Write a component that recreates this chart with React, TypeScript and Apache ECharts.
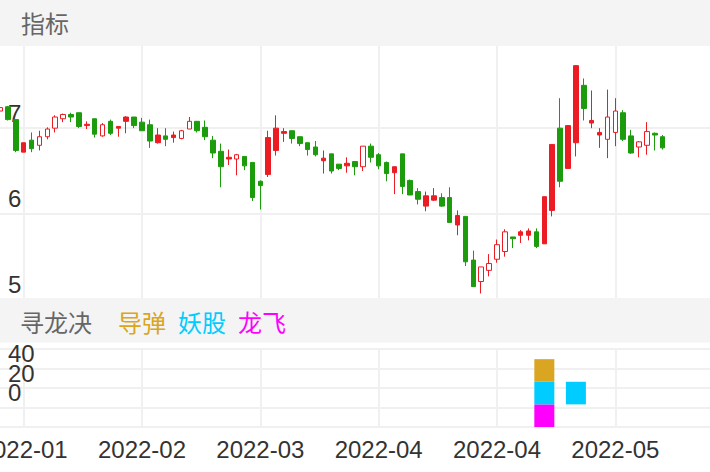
import * as echarts from 'echarts';
import { useEffect, useRef } from 'react';

const RED = '#ec1c24';
const GREEN = '#1c9c0c';
const GRID_LINE = '#f0f0f0';
const BAND = '#f4f4f4';

// category slots on the x axis (the last few are empty)
const categoryCount = 91;
const tickIndex = [3, 18, 33, 48, 63, 78];
const tickLabels = ['2022-01', '2022-02', '2022-03', '2022-04', '2022-04', '2022-05'];

// [open, close, low, high]
const candles = [
  [7.2, 7.24, 7.18, 7.26], [7.25, 7.1, 7.09, 7.26], [7.1, 6.74, 6.72, 7.1], [6.72, 6.83, 6.72, 6.83],
  [6.86, 6.76, 6.72, 6.95], [6.8, 6.9, 6.74, 6.97], [6.9, 6.99, 6.87, 7.01], [7.0, 7.13, 6.95, 7.15],
  [7.11, 7.16, 7.07, 7.17], [7.16, 7.13, 7.07, 7.18], [7.18, 7.02, 7.0, 7.18], [7.03, 7.045, 6.99, 7.08],
  [7.11, 6.93, 6.89, 7.11], [6.91, 7.04, 6.9, 7.06], [7.08, 6.94, 6.92, 7.1], [7.0, 7.02, 6.9, 7.02],
  [7.08, 7.13, 6.94, 7.14], [7.13, 7.03, 7.0, 7.13], [7.07, 6.97, 6.97, 7.12], [7.04, 6.85, 6.77, 7.1],
  [6.83, 6.92, 6.82, 7.0], [6.91, 6.87, 6.79, 7.0], [6.89, 6.92, 6.83, 6.96], [6.88, 6.97, 6.87, 6.98],
  [6.99, 7.08, 6.99, 7.13], [7.08, 6.97, 6.95, 7.08], [7.01, 6.9, 6.86, 7.09], [6.86, 6.71, 6.65, 6.91],
  [6.73, 6.55, 6.31, 6.82], [6.64, 6.66, 6.57, 6.75], [6.64, 6.69, 6.45, 6.7], [6.67, 6.56, 6.51, 6.67],
  [6.6, 6.19, 6.15, 6.6], [6.38, 6.33, 6.05, 6.39], [6.46, 6.89, 6.43, 6.97], [6.74, 7.0, 6.68, 7.15],
  [6.94, 6.96, 6.84, 7.0], [6.97, 6.88, 6.82, 6.97], [6.9, 6.82, 6.79, 6.9], [6.83, 6.75, 6.68, 6.83],
  [6.78, 6.69, 6.67, 6.85], [6.62, 6.65, 6.47, 6.74], [6.7, 6.5, 6.47, 6.7], [6.58, 6.53, 6.51, 6.58],
  [6.56, 6.59, 6.48, 6.66], [6.61, 6.55, 6.45, 6.61], [6.55, 6.79, 6.5, 6.79], [6.79, 6.66, 6.6, 6.82],
  [6.69, 6.56, 6.52, 6.71], [6.6, 6.47, 6.38, 6.61], [6.48, 6.55, 6.23, 6.55], [6.7, 6.32, 6.23, 6.7],
  [6.39, 6.22, 6.22, 6.4], [6.26, 6.17, 6.11, 6.3], [6.09, 6.21, 6.03, 6.26], [6.16, 6.21, 6.15, 6.3],
  [6.19, 6.09, 6.08, 6.24], [6.19, 5.9, 5.9, 6.31], [5.87, 5.98, 5.75, 6.04], [5.97, 5.44, 5.39, 5.97],
  [5.46, 5.15, 5.15, 5.57], [5.21, 5.38, 5.07, 5.38], [5.34, 5.42, 5.27, 5.53], [5.47, 5.64, 5.43, 5.7],
  [5.56, 5.79, 5.5, 5.82], [5.73, 5.71, 5.6, 5.73], [5.75, 5.79, 5.66, 5.81], [5.75, 5.8, 5.69, 5.83],
  [5.79, 5.62, 5.6, 5.83], [5.65, 6.2, 5.65, 6.2], [6.04, 6.81, 5.97, 6.81], [7.0, 6.38, 6.31, 7.35],
  [6.53, 7.03, 6.53, 7.03], [6.83, 7.73, 6.67, 7.73], [7.5, 7.23, 7.09, 7.58], [7.06, 7.09, 7.0, 7.44],
  [6.92, 6.95, 6.77, 7.0], [6.87, 7.13, 6.65, 7.45], [6.95, 7.2, 6.79, 7.35], [7.18, 6.87, 6.85, 7.21],
  [6.91, 6.71, 6.7, 6.98], [6.78, 6.84, 6.66, 6.85], [6.8, 6.96, 6.69, 7.07], [6.94, 6.92, 6.74, 6.95],
  [6.9, 6.77, 6.75, 6.92],
];

// up days drawn as solid red instead of hollow
const solidUp = [3, 11, 15, 16, 20, 22, 29, 34, 35, 36, 41, 44, 50, 54, 55, 58, 66, 67, 69, 70, 72, 73, 75, 76];

// signal days (category index) for the 寻龙决 indicator
const daodanDays = [69];
const yaoguDays = [69, 73];
const longfeiDays = [69];

const signals = [
  { name: '龙飞', row: 0, days: longfeiDays, color: '#ff00ff' },
  { name: '妖股', row: 1, days: yaoguDays, color: '#00ccff' },
  { name: '导弹', row: 2, days: daodanDays, color: '#daa520' },
];

const LATIN = '"Liberation Sans", Arial, sans-serif';
const CJK = '"Noto Sans CJK SC", sans-serif';

export default function App() {
  const chartRef = useRef<HTMLDivElement>(null);

  useEffect(() => {
    if (!chartRef.current) return;
    const chart = echarts.init(chartRef.current, null, { renderer: 'svg' });

    const categories = Array.from({ length: categoryCount }, (_, i) => String(i));
    const showTick = (index: number) => tickIndex.includes(index);

    const xBase = {
      type: 'category',
      data: categories,
      boundaryGap: false,
      axisLine: { show: false },
      axisTick: { show: false },
      axisLabel: { show: false },
      splitLine: { show: true, interval: showTick, lineStyle: { color: GRID_LINE, width: 2 } },
    };

    const yLabel = {
      inside: true,
      verticalAlign: 'bottom',
      fontSize: 24,
      fontFamily: LATIN,
      color: '#333',
      margin: 8,
      padding: [0, 0, 3, 0],
    };

    chart.setOption({
      animation: false,
      grid: [
        { left: 0, right: 0, top: 42.5, height: 257 },
        { left: 0, right: 0, top: 349, height: 78 },
      ],
      xAxis: [
        { ...xBase, gridIndex: 0 },
        { ...xBase, gridIndex: 1 },
      ],
      yAxis: [
        {
          gridIndex: 0,
          min: 5,
          max: 8,
          interval: 1,
          axisLine: { show: false },
          axisTick: { show: false },
          axisLabel: { ...yLabel, showMaxLabel: false },
          splitLine: { lineStyle: { color: GRID_LINE, width: 2 } },
        },
        {
          gridIndex: 1,
          min: -20,
          max: 60,
          interval: 20,
          axisLine: { show: false },
          axisTick: { show: false },
          axisLabel: { ...yLabel, showMinLabel: false, showMaxLabel: false },
          splitLine: { lineStyle: { color: GRID_LINE, width: 2 } },
        },
        { gridIndex: 1, min: 0, max: 3.45, show: false },
      ],
      series: [
        {
          type: 'candlestick',
          xAxisIndex: 0,
          yAxisIndex: 0,
          barWidth: 5,
          itemStyle: {
            color: '#ffffff',
            color0: GREEN,
            borderColor: RED,
            borderColor0: GREEN,
            borderWidth: 1,
          },
          data: candles.map((c, i) =>
            solidUp.includes(i) ? { value: c, itemStyle: { color: RED } } : c
          ),
        },
        ...signals.map((s) => ({
          type: 'custom',
          name: s.name,
          xAxisIndex: 1,
          yAxisIndex: 2,
          data: s.days.map((d) => [d, s.row]),
          renderItem: (_: unknown, api: any) => {
            const bottom = api.coord([api.value(0), api.value(1)]);
            const top = api.coord([api.value(0), api.value(1) + 1]);
            return {
              type: 'rect',
              shape: { x: bottom[0] - 10, y: top[1], width: 20, height: bottom[1] - top[1] },
              style: { fill: s.color },
            };
          },
        })),
      ],
      graphic: [
        { id: 'band-top', type: 'rect', z: 100, shape: { x: 0, y: 0, width: 710, height: 46 }, style: { fill: BAND } },
        { id: 'band-mid', type: 'rect', z: 100, shape: { x: 0, y: 298, width: 710, height: 44.5 }, style: { fill: BAND } },
        {
          id: 'title-top', type: 'text', z: 101, x: 21, y: 22,
          style: { text: '指标', fontSize: 24, fontFamily: CJK, fill: '#666', verticalAlign: 'middle' },
        },
        {
          id: 'title-mid', type: 'text', z: 101, x: 20, y: 321,
          style: { text: '寻龙决', fontSize: 24, fontFamily: CJK, fill: '#666', verticalAlign: 'middle' },
        },
        ...signals
          .slice()
          .reverse()
          .map((s, k) => ({
            id: 'legend-' + k, type: 'text', z: 101, x: 118 + k * 60, y: 321,
            style: { text: s.name, fontSize: 24, fontFamily: CJK, fill: s.color, verticalAlign: 'middle' },
          })),
      ],
    });

    // month labels under the lower grid, placed on the x axis's own ticks
    chart.setOption({
      graphic: tickIndex.map((idx, k) => ({
        id: 'xlabel-' + k,
        type: 'text',
        z: 50,
        x: chart.convertToPixel({ xAxisIndex: 1 }, idx) as number,
        y: 437,
        style: {
          text: tickLabels[k],
          fontSize: 24,
          fontFamily: LATIN,
          fill: '#333',
          align: 'center',
          verticalAlign: 'top',
        },
      })),
    });

    return () => chart.dispose();
  }, []);

  return (
    <div
      ref={chartRef}
      style={{ position: 'fixed', left: 0, top: 0, width: 710, height: 472, background: '#fff' }}
    />
  );
}
